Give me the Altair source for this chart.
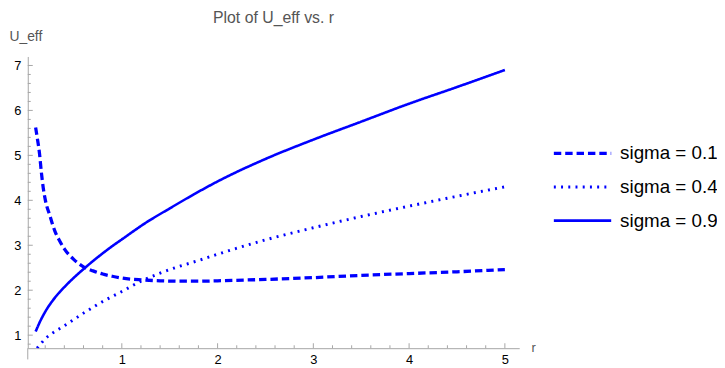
import altair as alt
import pandas as pd

# ---- data ----
series_labels = ["sigma = 0.1", "sigma = 0.4", "sigma = 0.9"]

r_s01 = [0.10, 0.12, 0.14, 0.16, 0.18, 0.20, 0.25, 0.30, 0.35, 0.40, 0.50, 0.60, 0.70,
         0.80, 0.90, 1.00, 1.20, 1.40, 1.60, 1.80, 2.00, 2.50, 3.00, 3.50, 4.00, 4.50, 5.00]
u_s01 = [5.62, 5.35, 5.05, 4.62, 4.27, 4.02, 3.65, 3.32, 3.10, 2.92, 2.68, 2.52, 2.43,
         2.36, 2.31, 2.27, 2.23, 2.21, 2.20, 2.20, 2.21, 2.24, 2.28, 2.33, 2.37, 2.41, 2.46]

r_s04 = [0.115, 0.15, 0.20, 0.30, 0.40, 0.50, 0.60, 0.70, 0.80, 0.90, 1.00, 1.20, 1.40,
         1.60, 1.80, 2.00, 2.50, 3.00, 3.50, 4.00, 4.50, 5.00]
u_s04 = [0.71, 0.80, 0.92, 1.08, 1.21, 1.35, 1.49, 1.62, 1.75, 1.86, 1.97, 2.20, 2.38,
         2.53, 2.66, 2.80, 3.12, 3.39, 3.64, 3.87, 4.09, 4.30]

r_s09 = [0.10, 0.15, 0.20, 0.30, 0.40, 0.50, 0.60, 0.70, 0.80, 0.90, 1.00, 1.25, 1.50,
         1.75, 2.00, 2.50, 3.00, 3.50, 4.00, 4.50, 5.00]
u_s09 = [1.08, 1.32, 1.52, 1.83, 2.07, 2.28, 2.47, 2.65, 2.82, 2.98, 3.13, 3.50, 3.82,
         4.13, 4.42, 4.92, 5.35, 5.75, 6.15, 6.52, 6.90]

x_major = [1, 2, 3, 4, 5]
y_major = [1, 2, 3, 4, 5, 6, 7]
x_minor = [round(i * 0.2, 2) for i in range(1, 26) if i % 5 != 0]
y_minor = [round(i * 0.2, 2) for i in range(4, 36) if i % 5 != 0]

x_lo, x_hi = 0.018, 5.15
y_lo, y_hi = 0.71, 7.2

rows = []
for lab, rs, us in zip(series_labels, [r_s01, r_s04, r_s09], [u_s01, u_s04, u_s09]):
    for i, (r, u) in enumerate(zip(rs, us)):
        rows.append({"series": lab, "r": r, "U": u, "order": i})
df = pd.DataFrame(rows)

AX = "#a6a6a6"
FONT = "Liberation Sans"

x_scale = alt.Scale(domain=[x_lo, x_hi], nice=False, zero=False)
y_scale = alt.Scale(domain=[y_lo, y_hi], nice=False, zero=False)

legend = alt.Legend(
    title=None, orient="none", legendX=530, legendY=81,
    symbolType="stroke", symbolSize=3364, symbolStrokeColor="#0000ff",
    labelFontSize=19, labelFont=FONT, labelColor="#000000", labelOffset=7,
    rowPadding=0, clipHeight=34, symbolStrokeWidth=3, labelLimit=200,
)

lines = alt.Chart(df).mark_line(clip=True, color="#0000ff", strokeCap="butt",
                                interpolate="monotone").encode(
    x=alt.X("r:Q", scale=x_scale, axis=alt.Axis(
        values=x_major, format="d", ticks=False, tickSize=0, domainColor=AX,
        labelColor="#000000", labelFont=FONT, labelFontSize=13, labelPadding=5, grid=False,
        title="r", titleFont=FONT, titleFontSize=13, titleColor="#555555",
        titleFontWeight="normal", titleAngle=0, titleX=511, titleY=-1,
        titleBaseline="middle", titleAlign="center")),
    y=alt.Y("U:Q", scale=y_scale, axis=alt.Axis(
        values=y_major, format="d", ticks=False, tickSize=0, domainColor=AX,
        labelColor="#000000", labelFont=FONT, labelFontSize=13, labelPadding=7, grid=False,
        title="U_eff", titleFont=FONT, titleFontSize=14, titleColor="#555555",
        titleFontWeight="normal", titleAngle=0, titleX=-19, titleY=-20,
        titleBaseline="middle", titleAlign="left")),
    strokeDash=alt.StrokeDash("series:N", scale=alt.Scale(
        domain=series_labels, range=[[7.5, 4], [2, 5.3], [1, 0]]), legend=legend),
    strokeWidth=alt.StrokeWidth("series:N", scale=alt.Scale(
        domain=series_labels, range=[3.3, 2.6, 3.0]), legend=legend),
    order="order:Q",
)

# inward tick marks (Mathematica style), lengths in data units
xt_major = alt.Chart(pd.DataFrame({"r": x_major})).mark_rule(color=AX, strokeWidth=1).encode(
    x=alt.X("r:Q", scale=x_scale), y=alt.Y(datum=y_lo, scale=y_scale), y2=alt.Y2(datum=y_lo + 0.11))
xt_minor = alt.Chart(pd.DataFrame({"r": x_minor})).mark_rule(color=AX, strokeWidth=1).encode(
    x=alt.X("r:Q", scale=x_scale), y=alt.Y(datum=y_lo, scale=y_scale), y2=alt.Y2(datum=y_lo + 0.065))
yt_major = alt.Chart(pd.DataFrame({"U": y_major})).mark_rule(color=AX, strokeWidth=1).encode(
    y=alt.Y("U:Q", scale=y_scale), x=alt.X(datum=x_lo, scale=x_scale), x2=alt.X2(datum=x_lo + 0.052))
yt_minor = alt.Chart(pd.DataFrame({"U": y_minor})).mark_rule(color=AX, strokeWidth=1).encode(
    y=alt.Y("U:Q", scale=y_scale), x=alt.X(datum=x_lo, scale=x_scale), x2=alt.X2(datum=x_lo + 0.031))
# y axis line continues a little below the r axis
y_ext = alt.Chart(pd.DataFrame({"r": [x_lo]})).mark_rule(color=AX, strokeWidth=1).encode(
    x=alt.X("r:Q", scale=x_scale), y=alt.Y(datum=y_lo, scale=y_scale), y2=alt.Y2(datum=y_lo - 0.25))

chart = alt.layer(lines, xt_major, xt_minor, yt_major, yt_minor, y_ext).properties(
    width=497, height=295,
    title=alt.TitleParams("Plot of U_eff vs. r", font=FONT, fontSize=16, fontWeight="normal",
                          color="#555555", anchor="middle", frame="group", offset=4),
    autosize=alt.AutoSizeParams(type="none"),
    padding={"left": 20, "top": 47, "right": 200, "bottom": 18},
).configure_view(stroke=None)

chart.save("out.html", embed_options={"renderer": "svg", "actions": False})
